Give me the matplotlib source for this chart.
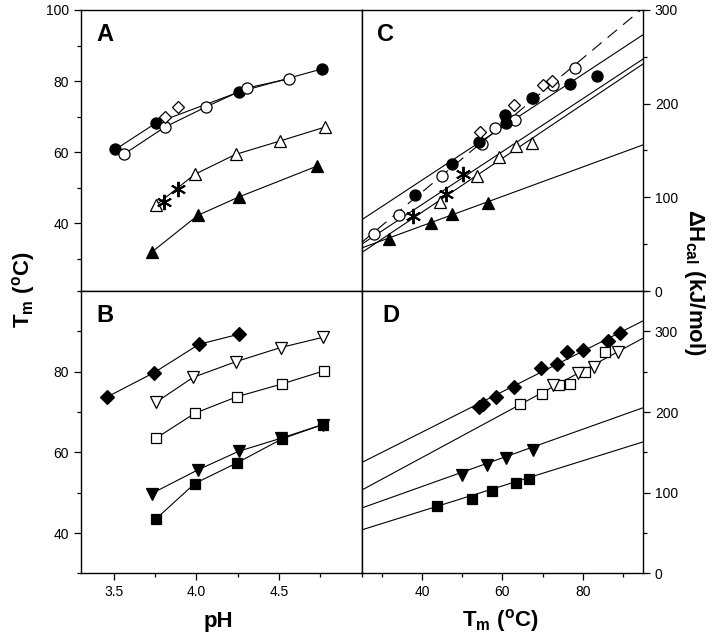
import numpy as np
import matplotlib
matplotlib.use("Agg")
import matplotlib.pyplot as plt
from matplotlib.ticker import MultipleLocator

plt.rcParams['font.family'] = ['Liberation Sans', 'DejaVu Sans']
plt.rcParams['mathtext.fontset'] = 'custom'
plt.rcParams['mathtext.rm'] = 'Liberation Sans:bold'
plt.rcParams['mathtext.default'] = 'rm'

# ---- panel A: Tm vs pH
a_fcirc_ph = [3.51, 3.755, 4.255, 4.757]
a_fcirc_tm = [60.8, 68.2, 76.9, 83.4]
a_ocirc_ph = [3.56, 3.81, 4.056, 4.307, 4.558]
a_ocirc_tm = [59.4, 67.1, 72.7, 78.1, 80.6]
a_odiam_ph = [3.81, 3.886]
a_odiam_tm = [69.8, 72.6]
a_otri_ph = [3.755, 3.99, 4.237, 4.508, 4.779]
a_otri_tm = [45.1, 53.8, 59.4, 63.2, 67.1]
a_star_ph = [3.805, 3.886]
a_star_tm = [46.0, 49.8]
a_ftri_ph = [3.729, 4.01, 4.255, 4.729]
a_ftri_tm = [31.9, 42.3, 47.4, 56.1]

# ---- panel B: Tm vs pH
b_fdiam_ph = [3.458, 3.745, 4.016, 4.257]
b_fdiam_tm = [73.7, 79.8, 86.8, 89.3]
b_odown_ph = [3.755, 3.98, 4.24, 4.51, 4.763]
b_odown_tm = [72.4, 78.6, 82.5, 86.0, 88.5]
b_osq_ph = [3.755, 3.99, 4.245, 4.52, 4.77]
b_osq_tm = [63.5, 69.7, 73.8, 77.0, 80.2]
b_fdown_ph = [3.729, 4.01, 4.257, 4.51, 4.763]
b_fdown_tm = [49.8, 55.7, 60.3, 63.5, 66.9]
b_fsq_ph = [3.755, 3.99, 4.245, 4.52, 4.763]
b_fsq_tm = [43.5, 52.3, 57.4, 63.4, 66.9]

# ---- panel C: dH vs Tm
c_ocirc_tm = [28.0, 34.4, 45.1, 54.9, 58.2, 63.2, 67.3, 72.7, 78.1]
c_ocirc_dh = [60.9, 81.1, 122.9, 156.5, 174.3, 183.0, 206.2, 220.3, 238.0]
c_fcirc_tm = [38.3, 47.5, 54.1, 60.7, 60.9, 67.7, 76.8, 83.6]
c_fcirc_dh = [102.3, 135.3, 159.0, 188.4, 179.6, 206.2, 221.4, 229.1]
c_odiam_tm = [54.5, 62.8, 70.2, 72.3]
c_odiam_dh = [169.6, 199.0, 220.3, 223.8]
c_star_tm = [37.7, 46.0, 50.3]
c_star_dh = [80.3, 103.4, 124.7]
c_otri_tm = [44.5, 53.7, 59.2, 63.4, 67.3]
c_otri_dh = [94.6, 122.9, 143.5, 154.7, 158.3]
c_ftri_tm = [31.7, 42.3, 47.5, 56.4]
c_ftri_dh = [55.6, 72.6, 82.1, 93.8]
# fitted lines (slope, intercept)
c_fit_slope = [3.571, 2.821, 2.823, 2.876, 1.571]
c_fit_icpt = [-37.3, 5.5, -20.6, -30.9, 6.7]
c_fit_dashed = [True, False, False, False, False]

# ---- panel D: dH vs Tm
d_fdiam_tm = [54.3, 55.3, 58.5, 63.0, 69.6, 73.5, 76.0, 80.0, 86.4, 89.3]
d_fdiam_dh = [206, 210, 219, 231, 254, 260, 275, 277, 287.5, 298]
d_osq_tm = [64.4, 69.8, 74.0, 76.8, 80.6, 85.5]
d_osq_dh = [210, 222, 233, 235, 250, 275]
d_odown_tm = [72.7, 78.9, 82.8, 88.8]
d_odown_dh = [233, 248, 256, 275]
d_fdown_tm = [49.9, 56.1, 61.0, 67.7]
d_fdown_dh = [121.6, 134.5, 143.7, 153.3]
d_fsq_tm = [43.7, 52.4, 57.4, 63.4, 66.7]
d_fsq_dh = [83.3, 92.5, 102.0, 112.5, 116.6]
d_fit_slope = [2.507, 2.689, 1.774, 1.557]
d_fit_icpt = [74.8, 36.1, 36.8, 15.1]

ph_lim = (3.3, 5.0)
tm_lim = (25, 95)

fig = plt.figure(figsize=(7.2, 6.43), dpi=100)
L, M, R = 0.112, 0.5024, 0.893
B0, MID, T = 0.1081, 0.5474, 0.9845
axA = fig.add_axes([L, MID, M - L, T - MID])
axB = fig.add_axes([L, B0, M - L, MID - B0])
axC = fig.add_axes([M, MID, R - M, T - MID])
axD = fig.add_axes([M, B0, R - M, MID - B0])

lw = 0.8
ms = 8


def pts(ax, x, y, mk, filled, line=True, size=ms, mew=0.9):
    ax.plot(x, y, linestyle='-' if line else 'none', color='black', lw=lw,
            marker=mk, markersize=size, markerfacecolor='black' if filled else 'white',
            markeredgecolor='black', markeredgewidth=mew, zorder=3)


asterisk = (6, 2, 0)

# A
pts(axA, a_fcirc_ph, a_fcirc_tm, 'o', True)
pts(axA, a_ocirc_ph, a_ocirc_tm, 'o', False)
pts(axA, a_odiam_ph, a_odiam_tm, 'D', False, line=False, size=6.5)
pts(axA, a_otri_ph, a_otri_tm, '^', False)
pts(axA, a_star_ph, a_star_tm, asterisk, True, line=False, size=11, mew=1.4)
pts(axA, a_ftri_ph, a_ftri_tm, '^', True)

# B
pts(axB, b_fdiam_ph, b_fdiam_tm, 'D', True, size=7)
pts(axB, b_odown_ph, b_odown_tm, 'v', False)
pts(axB, b_osq_ph, b_osq_tm, 's', False, size=7.5)
pts(axB, b_fdown_ph, b_fdown_tm, 'v', True)
pts(axB, b_fsq_ph, b_fsq_tm, 's', True, size=7.5)

# C
xs = np.array(tm_lim)
for s, b, d in zip(c_fit_slope, c_fit_icpt, c_fit_dashed):
    axC.plot(xs, s * xs + b, color='black', lw=lw,
             dashes=(11, 7) if d else (None, None), zorder=2)
pts(axC, c_ocirc_tm, c_ocirc_dh, 'o', False, line=False)
pts(axC, c_fcirc_tm, c_fcirc_dh, 'o', True, line=False)
pts(axC, c_odiam_tm, c_odiam_dh, 'D', False, line=False, size=6.5)
pts(axC, c_star_tm, c_star_dh, asterisk, True, line=False, size=11, mew=1.4)
pts(axC, c_otri_tm, c_otri_dh, '^', False, line=False)
pts(axC, c_ftri_tm, c_ftri_dh, '^', True, line=False)

# D
for s, b in zip(d_fit_slope, d_fit_icpt):
    axD.plot(xs, s * xs + b, color='black', lw=lw, zorder=2)
pts(axD, d_fdiam_tm, d_fdiam_dh, 'D', True, line=False, size=7)
pts(axD, d_osq_tm, d_osq_dh, 's', False, line=False, size=7.5)
pts(axD, d_odown_tm, d_odown_dh, 'v', False, line=False)
pts(axD, d_fdown_tm, d_fdown_dh, 'v', True, line=False)
pts(axD, d_fsq_tm, d_fsq_dh, 's', True, line=False, size=7.5)

# axes styling
for ax in (axA, axB, axC, axD):
    for sp in ax.spines.values():
        sp.set_linewidth(1.0)
    ax.tick_params(which='both', direction='out', width=0.9, labelsize=10,
                   top=False, right=False, left=False)
    ax.tick_params(which='major', length=5)
    ax.tick_params(which='minor', length=3)

for ax in (axA, axB):
    ax.set_xlim(ph_lim)
    ax.xaxis.set_major_locator(MultipleLocator(0.5))
    ax.xaxis.set_minor_locator(MultipleLocator(0.25))
    ax.yaxis.set_major_locator(MultipleLocator(20))
    ax.yaxis.set_minor_locator(MultipleLocator(10))
    ax.tick_params(which='both', left=True)
axA.set_ylim(21, 100)
axB.set_ylim(30, 100)
axB.set_xticks([3.5, 4.0, 4.5])
axB.set_xticklabels(['3.5', '4.0', '4.5'])
axB.set_yticks([40, 60, 80])

for ax in (axC, axD):
    ax.set_xlim(tm_lim)
    ax.xaxis.set_major_locator(MultipleLocator(20))
    ax.xaxis.set_minor_locator(MultipleLocator(10))
    ax.yaxis.set_major_locator(MultipleLocator(100))
    ax.yaxis.set_minor_locator(MultipleLocator(50))
    ax.yaxis.tick_right()
    ax.tick_params(which='both', right=True, left=False)
axC.set_ylim(0, 300)
axD.set_ylim(0, 350)
axD.set_xticks([40, 60, 80])

axA.tick_params(labelbottom=False)
axC.tick_params(labelbottom=False)

for ax, lab in ((axA, 'A'), (axB, 'B'), (axC, 'C'), (axD, 'D')):
    dx = 0.055 if lab != 'D' else 0.075
    ax.text(dx, 0.955, lab, transform=ax.transAxes, fontsize=17,
            fontweight='bold', va='top', ha='left')

fig.text(0.032, 1 - 290 / 643, r'T$_{m}$ ($^{o}$C)', rotation=90,
         fontsize=16, fontweight='bold', ha='center', va='center')
fig.text(0.965, 1 - 282 / 643, r'ΔH$_{cal}$ (kJ/mol)', rotation=-90,
         fontsize=16, fontweight='bold', ha='center', va='center')
fig.text(218 / 720, 1 - 621 / 643, 'pH', fontsize=16, fontweight='bold',
         ha='center', va='center')
fig.text(500 / 720, 1 - 621 / 643, r'T$_{m}$ ($^{o}$C)', fontsize=16,
         fontweight='bold', ha='center', va='center')

fig.savefig('out.png', dpi=100)
